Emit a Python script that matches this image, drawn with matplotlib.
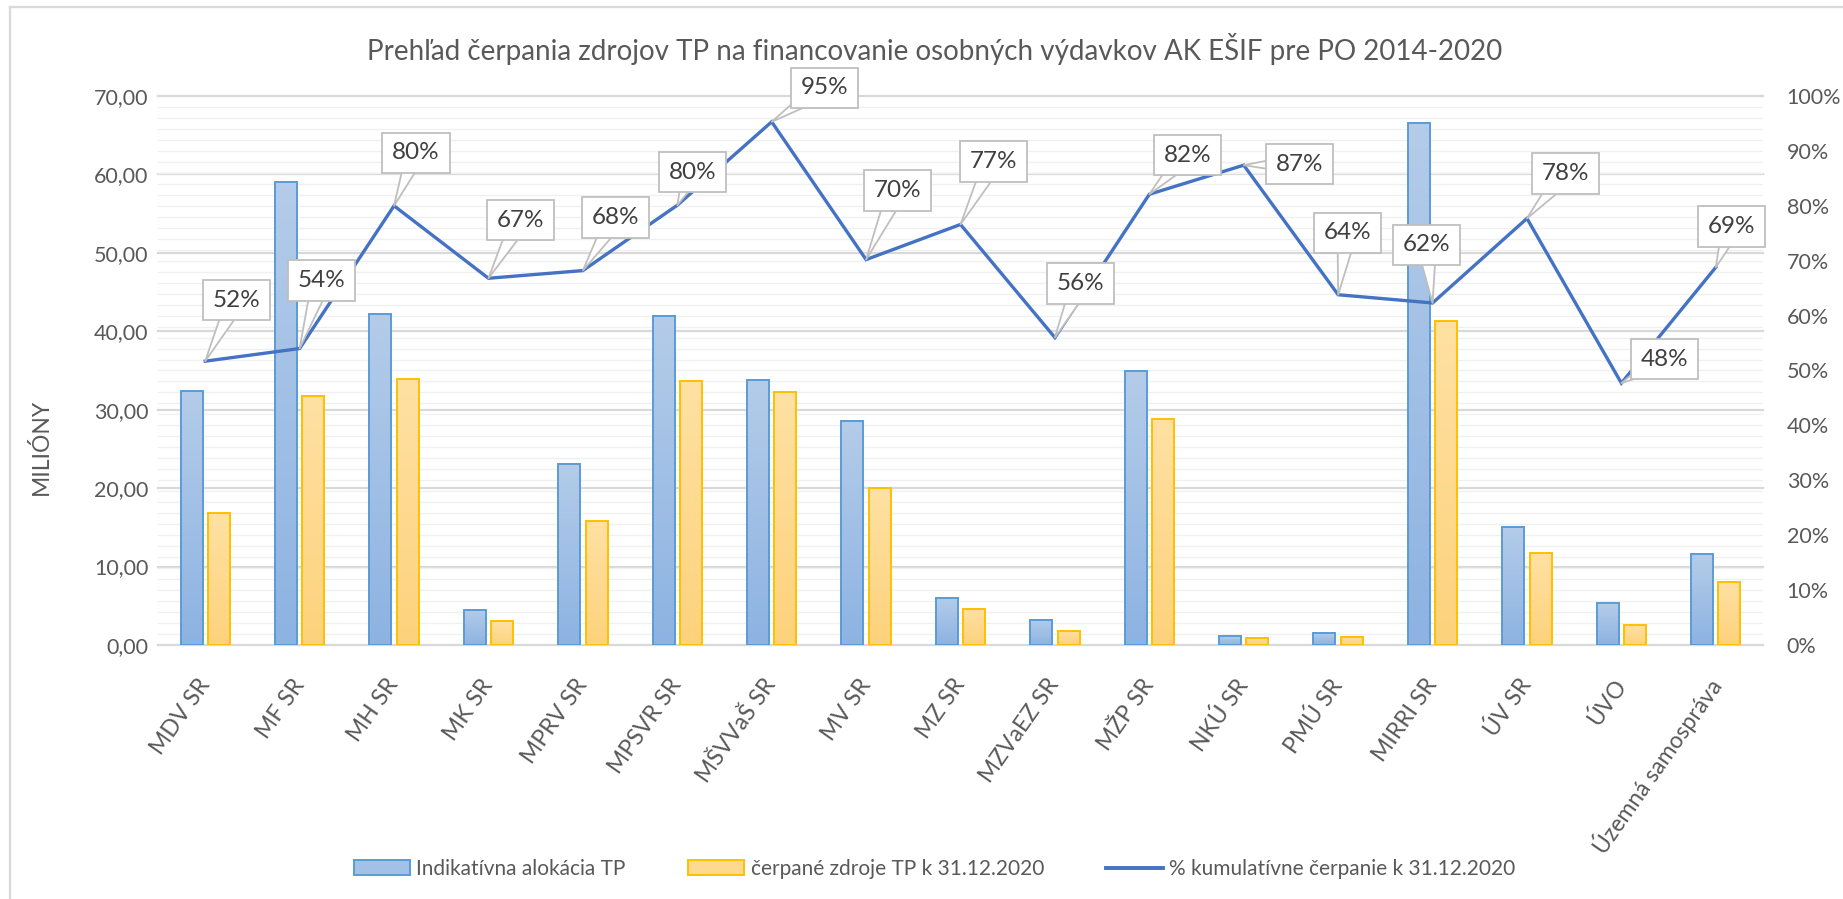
import numpy as np
import matplotlib
matplotlib.use("Agg")
import matplotlib.pyplot as plt
from matplotlib.colors import LinearSegmentedColormap
from matplotlib.ticker import MultipleLocator, FixedLocator, FuncFormatter
from matplotlib.patches import Patch
from matplotlib.lines import Line2D

plt.rcParams['font.family'] = ['Lato', 'DejaVu Sans']

# ---------------- data ----------------
categories = ['MDV SR', 'MF SR', 'MH SR', 'MK SR', 'MPRV SR', 'MPSVR SR', 'MŠVVaŠ SR',
              'MV SR', 'MZ SR', 'MZVaEZ SR', 'MŽP SR', 'NKÚ SR', 'PMÚ SR', 'MIRRI SR',
              'ÚV SR', 'ÚVO', 'Územná samospráva']
alokacia = [32.4, 59.0, 42.2, 4.5, 23.1, 42.0, 33.8, 28.6, 6.0, 3.2, 34.9, 1.1, 1.55,
            66.5, 15.1, 5.3, 11.6]
cerpane = [16.8, 31.8, 33.9, 3.0, 15.8, 33.6, 32.3, 20.0, 4.6, 1.8, 28.8, 0.95, 1.05,
           41.3, 11.7, 2.5, 8.0]
kumulativ = [0.517, 0.540, 0.800, 0.668, 0.682, 0.801, 0.953, 0.702, 0.766, 0.560,
             0.821, 0.874, 0.638, 0.623, 0.777, 0.477, 0.688]
left_ticks = [0, 10, 20, 30, 40, 50, 60, 70]
right_ticks = [0, .1, .2, .3, .4, .5, .6, .7, .8, .9, 1.0]

title = 'Prehľad čerpania zdrojov TP na financovanie osobných výdavkov AK EŠIF pre PO 2014-2020'
ylabel = 'MILIÓNY'
legend_labels = ['Indikatívna alokácia TP', 'čerpané zdroje TP k 31.12.2020',
                 '% kumulatívne čerpanie k 31.12.2020']

# callout offsets in pixels (layout only)
label_offsets = [(31, 61), (22, 68), (22, 53), (32, 58), (33, 53), (15, 33), (53, 34),
                 (31, 69), (33, 63), (26, 54), (38, 39), (56, 1), (9, 62), (-6, 58),
                 (39, 45), (43, 24), (16, 41)]

# ---------------- figure ----------------
W, H = 1843, 899
fig = plt.figure(figsize=(W / 100, H / 100), dpi=100)
fig.patch.set_facecolor('white')

px_l, px_r, px_t, px_b = 158, 1763, 96, 645
ax = fig.add_axes([px_l / W, 1 - px_b / H, (px_r - px_l) / W, (px_b - px_t) / H])
ax2 = ax.twinx()

TXT = '#595959'
GRID = '#d9d9d9'

x = np.arange(len(categories))
bw = 0.233
off = 0.145

b1 = ax.bar(x - off, alokacia, bw, facecolor='none', edgecolor='#5b9bd5', linewidth=1.4, zorder=3)
b2 = ax.bar(x + off, cerpane, bw, facecolor='none', edgecolor='#ffc000', linewidth=1.4, zorder=3)


def gradient_fill(bars, top, bottom):
    cmap = LinearSegmentedColormap.from_list('g', [top, bottom])
    grad = np.linspace(0, 1, 128).reshape(-1, 1)
    for b in bars:
        x0, y0 = b.get_xy()
        ax.imshow(grad, extent=[x0, x0 + b.get_width(), y0, y0 + b.get_height()],
                  origin='upper', cmap=cmap, aspect='auto', zorder=2.5, interpolation='bilinear')


gradient_fill(b1, '#b4cce9', '#8db3e2')
gradient_fill(b2, '#ffe1a3', '#fdd27c')

ax.set_xlim(-0.5, len(categories) - 0.5)
ax.set_ylim(0, 70)
ax.yaxis.set_major_locator(FixedLocator(left_ticks))
ax.yaxis.set_minor_locator(MultipleLocator(70 * 0.02))
ax.yaxis.set_major_formatter(FuncFormatter(lambda v, p: f'{v:.2f}'.replace('.', ',')))
ax.grid(axis='y', which='major', color=GRID, linewidth=1.6, zorder=1)
ax.grid(axis='y', which='minor', color='#f0f0f0', linewidth=1.0, zorder=0.5)
ax.set_axisbelow(True)
for gl in ax.get_ygridlines():
    gl.set_clip_on(False)
for s in ax.spines.values():
    s.set_visible(False)
for s in ax2.spines.values():
    s.set_visible(False)
ax.tick_params(axis='y', which='both', length=0, labelsize=15.5, labelcolor=TXT, pad=7)
ax.tick_params(axis='x', length=0, labelsize=16.5, labelcolor=TXT, pad=26)
ax.set_xticks(x)
ax.set_xticklabels(categories, rotation=55, ha='right', va='center', rotation_mode='anchor')
ax.set_ylabel(ylabel, fontsize=16.5, color=TXT)
ax.yaxis.set_label_coords(-0.066, 0.36)

ax2.set_ylim(0, 1)
ax2.yaxis.set_major_locator(FixedLocator(right_ticks))
ax2.yaxis.set_major_formatter(FuncFormatter(lambda v, p: f'{int(round(v * 100))}%'))
ax2.tick_params(axis='y', length=0, labelsize=15.5, labelcolor=TXT, pad=17)
ax2.grid(False)
ax2.patch.set_visible(False)

ax2.plot(x, kumulativ, color='#4472c4', linewidth=2.4, zorder=4, solid_joinstyle='miter')

for i, (v, (dx, dy)) in enumerate(zip(kumulativ, label_offsets)):
    ax2.annotate(f'{round(v * 100):d}%', xy=(i, v), xytext=(dx, dy), textcoords='offset pixels',
                 ha='center', va='center', fontsize=17.5, color='#404040', zorder=6,
                 bbox=dict(boxstyle='square,pad=0.4', fc='white', ec='#bfbfbf', lw=1.3),
                 arrowprops=dict(arrowstyle='wedge,tail_width=0.8', fc='white', ec='#bfbfbf',
                                 lw=1.3, shrinkA=0, shrinkB=0, patchA=None))

fig.text(935 / W, 1 - 49 / H, title, ha='center', va='center', fontsize=20, color=TXT)

handles = [Patch(facecolor='#a3c0e6', edgecolor='#5b9bd5', linewidth=1.4),
           Patch(facecolor='#fed98f', edgecolor='#ffc000', linewidth=1.4),
           Line2D([0], [0], color='#4472c4', linewidth=2.8)]
fig.legend(handles, legend_labels, loc='center', bbox_to_anchor=(0.507, 1 - 869 / H), ncol=3,
           frameon=False, fontsize=15, labelcolor=TXT, handlelength=2.7, handleheight=0.75,
           handletextpad=0.3, columnspacing=3.0)

# chart frame
fig.add_artist(Line2D([10 / W, 10 / W], [0, 1 - 7 / H], transform=fig.transFigure,
                      color=GRID, linewidth=1.6))
fig.add_artist(Line2D([10 / W, 1], [1 - 7 / H, 1 - 7 / H], transform=fig.transFigure,
                      color=GRID, linewidth=1.6))

fig.savefig('out.png', dpi=100, facecolor='white')
